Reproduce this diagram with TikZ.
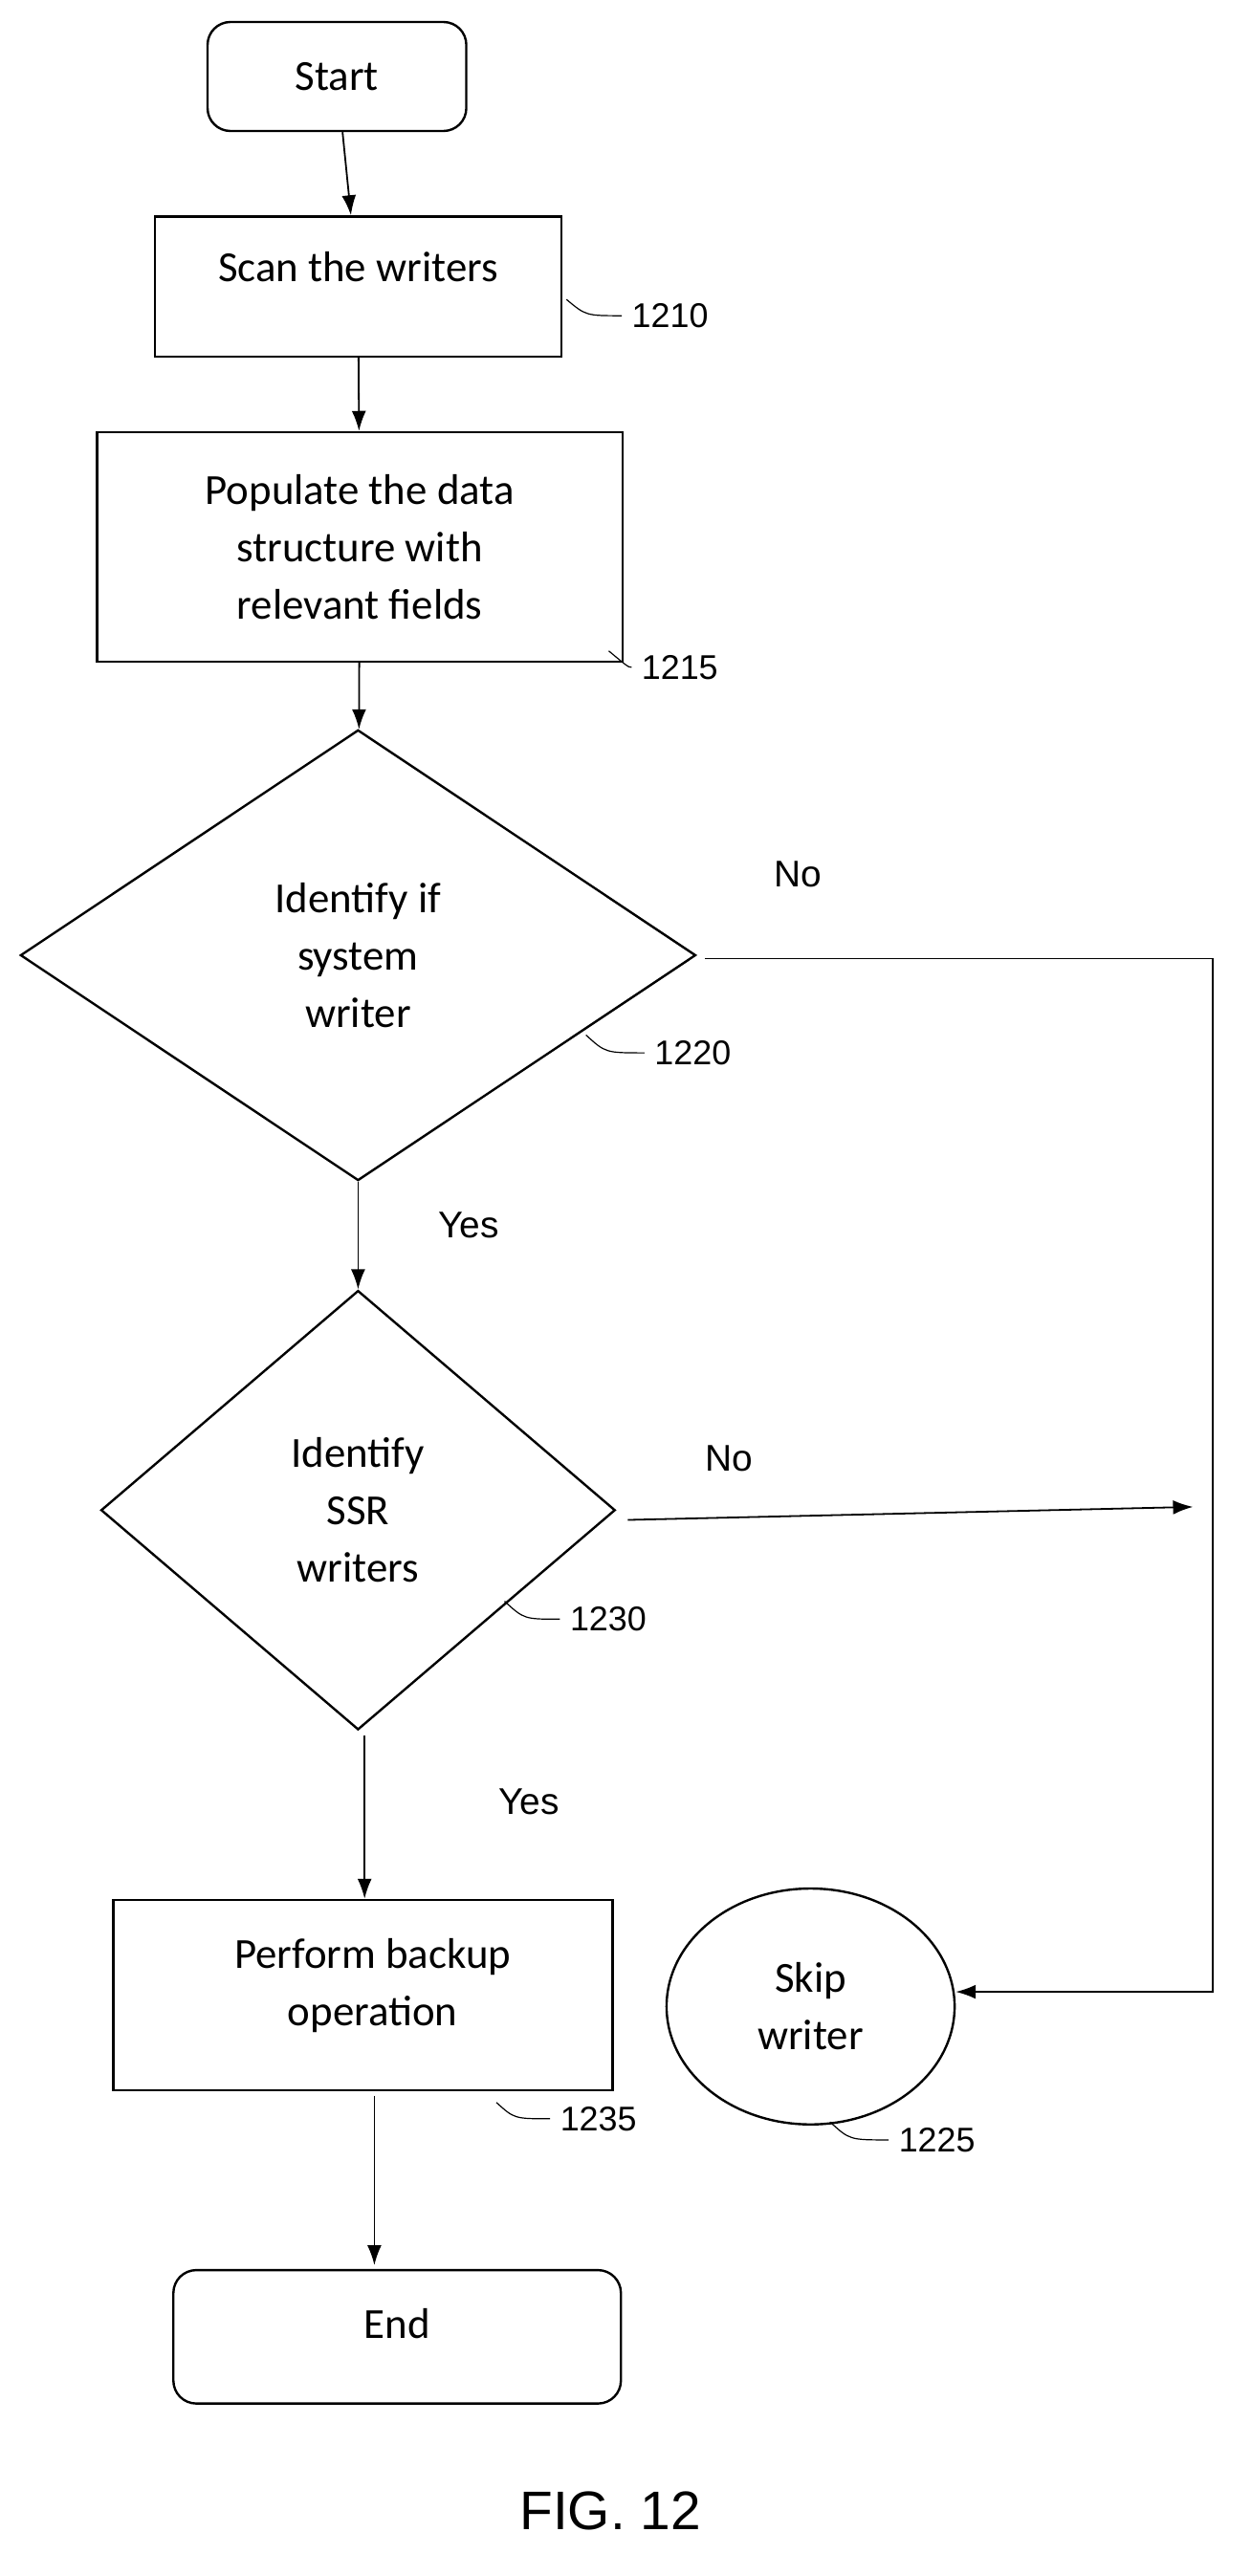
\documentclass[tikz,border=0pt]{standalone}
\usepackage{fontspec}
\setmainfont{Carlito}
\newfontfamily\labelfont{Liberation Sans}
\usetikzlibrary{shapes.geometric,arrows.meta}
\tikzset{
  box/.style={draw,thick,align=center,font=\fontsize{15}{20}\selectfont,inner sep=0pt},
  term/.style={box,rounded corners=8pt},
  decide/.style={draw,thick,diamond,align=center,font=\fontsize{15}{20}\selectfont,inner sep=0pt},
  words/.style={align=center,font=\fontsize{15}{20}\selectfont,inner sep=0pt},
  flow/.style={-{Latex[length=7pt,width=5pt]},semithick},
  tag/.style={font=\labelfont\fontsize{12}{14}\selectfont,anchor=west},
  lead/.style={thin},
  ans/.style={font=\labelfont\fontsize{13}{15}\selectfont}
}
\begin{document}
\begin{tikzpicture}[x=0.02cm,y=-0.02cm]
  \useasboundingbox (0,0) rectangle (768,1583);
  % boxes
  \node[term,minimum width=3.18cm,minimum height=1.34cm] (start) at (207,47) {Start};
  \node[box,minimum width=5cm,minimum height=1.72cm] (scan) at (220,176) {};
  \node[words] (scantxt) at (220,164) {Scan the writers};
  \node[box,minimum width=6.46cm,minimum height=2.82cm] (pop) at (221,336) {Populate the data\\structure with\\relevant fields};
  \node[decide,minimum width=8.3cm,minimum height=5.54cm] (sys) at (220,587) {Identify if\\system\\writer};
  \node[decide,minimum width=6.32cm,minimum height=5.4cm] (ssr) at (220,928) {Identify\\SSR\\writers};
  \node[box,minimum width=6.14cm,minimum height=2.34cm] (backup) at (223,1226) {};
  \node[words] (backuptxt) at (229,1220) {Perform backup\\operation};
  \node[draw,thick,ellipse,minimum width=3.54cm,minimum height=2.9cm,align=center,font=\fontsize{15}{20}\selectfont] (skip) at (498,1233) {Skip\\writer};
  \node[term,minimum width=5.5cm,minimum height=1.64cm] (end) at (244,1436) {};
  \node[words] (endtxt) at (244,1428) {End};
  % connectors
  \draw[flow] (start) -- (scan);
  \draw[flow] (scan) -- (pop);
  \draw[flow] (pop) -- (sys);
  \draw[flow] (sys) -- (ssr);
  \coordinate (turn1) at (745,589);
  \coordinate (turn2) at (745,1224);
  \draw[flow] (sys.east) ++(5,2) -- (turn1) -- (turn2) -- (skip.east |- turn2);
  \coordinate (side) at (733,926);
  \draw[flow] (ssr.east) ++(7,6) -- (side);
  \draw[flow] (ssr.south) ++(4,3) -- (backup.north -| 224,0);
  \draw[flow] (230,1288) -- (230,1392);
  % answers
  \node[ans] at (490,537) {No};
  \node[ans] at (288,753) {Yes};
  \node[ans] at (448,896) {No};
  \node[ans] at (325,1107) {Yes};
  % reference numbers
  \draw[lead] (348,184) .. controls (360,194) .. (382,194) node[tag] {1210};
  \draw[lead] (374,400) .. controls (386,410) .. (388,410) node[tag] {1215};
  \draw[lead] (360,636) .. controls (372,647) .. (396,647) node[tag] {1220};
  \draw[lead] (310,984) .. controls (322,995) .. (344,995) node[tag] {1230};
  \draw[lead] (305,1292) .. controls (316,1302) .. (338,1302) node[tag] {1235};
  \draw[lead] (510,1304) .. controls (522,1315) .. (546,1315) node[tag] {1225};
  \node[font=\labelfont\fontsize{19}{22}\selectfont] (fig) at (375,1543) {FIG. 12};
\end{tikzpicture}
\end{document}
